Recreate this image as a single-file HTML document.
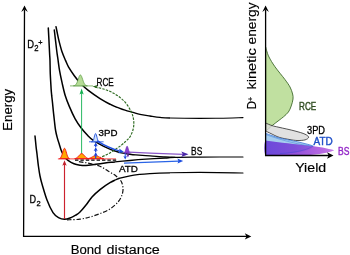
<!DOCTYPE html><html><head><meta charset="utf-8"><style>html,body{margin:0;padding:0;background:#fff}body{width:350px;height:255px;overflow:hidden}</style></head><body><svg width="350" height="255" viewBox="0 0 350 255" style="display:block;font-family:'Liberation Sans',sans-serif">
<defs><linearGradient id="pg" x1="0" x2="1" y1="0" y2="0"><stop offset="0" stop-color="#7240d8"/><stop offset="0.45" stop-color="#8c48d8"/><stop offset="0.8" stop-color="#b05ee0"/><stop offset="1" stop-color="#c272e4"/></linearGradient></defs>
<rect width="350" height="255" fill="#fff"/>
<path d="M24.5,9.5L23.6,236.4H247" fill="none" stroke="#000" stroke-width="1.3"/>
<path d="M24.5,5.6L27.8,12L24.5,9.6L21.2,12Z" fill="#000"/>
<path d="M251.3,236.4L244.8,233.2L246.5,236.4L244.8,239.6Z" fill="#000"/>
<defs><clipPath id="c1"><rect x="0" y="0" width="115" height="255"/></clipPath><clipPath id="c2"><rect x="115" y="0" width="55" height="255"/></clipPath><clipPath id="c3"><rect x="170" y="0" width="180" height="255"/></clipPath></defs>
<g clip-path="url(#c1)" fill="none" stroke="#000" stroke-width="1.50" stroke-linecap="round">
<path d="M48.3,28.1C48.4,30.0 48.7,35.0 48.9,39.3C49.1,43.5 49.4,50.0 49.6,53.6C49.8,57.2 49.9,57.2 50.0,60.7C50.1,64.2 50.1,69.7 50.3,74.3C50.5,78.9 50.9,85.0 51.1,88.6C51.3,92.2 51.5,93.2 51.7,95.7C52.0,98.2 52.3,100.6 52.6,103.6C52.9,106.6 53.2,110.3 53.6,113.6C54.0,116.9 54.4,120.8 54.7,123.6C55.0,126.4 55.2,128.2 55.6,130.5C56.0,132.8 56.5,134.8 57.1,137.1C57.7,139.4 58.5,141.9 59.3,144.3C60.0,146.7 60.6,149.2 61.6,151.4C62.6,153.6 63.9,156.0 65.0,157.5C66.1,159.0 66.5,159.3 68.0,160.4C69.5,161.5 72.0,163.0 74.0,163.8C76.0,164.6 78.0,164.9 80.0,165.2C82.0,165.5 83.0,165.7 86.0,165.5C89.0,165.3 93.8,164.4 98.0,163.9C102.2,163.4 107.3,162.7 111.0,162.3C114.7,161.9 116.8,161.7 120.0,161.4C123.2,161.1 125.7,160.9 130.0,160.5C134.3,160.1 140.2,159.6 146.0,159.2C151.8,158.8 160.2,158.3 165.0,158.0C169.8,157.7 169.2,157.6 175.0,157.4C180.8,157.2 188.7,157.2 200.0,157.1C211.3,157.0 235.8,157.0 243.0,157.0"/>
<path d="M54.3,30.0C54.5,31.6 54.9,35.4 55.4,39.3C55.9,43.2 56.6,50.1 57.1,53.6C57.6,57.1 57.7,57.4 58.1,60.4C58.5,63.4 59.0,67.7 59.7,71.4C60.4,75.2 61.2,78.9 62.1,82.9C63.0,86.9 64.0,91.6 65.2,95.5C66.4,99.4 67.7,102.6 69.3,106.4C70.9,110.2 73.0,114.9 75.0,118.6C77.0,122.2 79.2,125.5 81.4,128.3C83.6,131.2 85.9,133.6 87.9,135.7C89.9,137.8 91.6,139.2 93.6,140.6C95.6,142.0 97.8,143.1 100.0,144.3C102.2,145.5 104.7,146.8 107.1,147.9C109.5,149.0 111.9,150.0 114.3,150.8C116.7,151.6 119.1,152.4 121.4,152.9C123.7,153.4 125.6,153.7 128.0,154.0C130.4,154.3 132.0,154.6 135.7,154.9C139.4,155.2 145.1,155.6 150.0,155.9C154.9,156.2 160.8,156.7 165.0,156.9C169.2,157.1 173.3,157.2 175.0,157.3"/>
<path d="M56.0,26.7C56.2,27.9 56.9,31.0 57.4,33.6C57.9,36.2 58.5,39.0 59.3,42.1C60.1,45.2 61.1,49.1 62.1,52.1C63.1,55.1 64.4,57.9 65.5,60.4C66.6,62.9 67.1,64.5 68.6,67.1C70.1,69.6 72.2,72.8 74.3,75.7C76.4,78.6 79.0,81.8 81.4,84.3C83.8,86.8 85.5,88.3 88.6,90.7C91.7,93.1 96.4,96.3 100.0,98.6C103.6,100.8 106.9,102.7 110.0,104.2C113.1,105.8 116.1,106.9 118.6,107.9C121.1,108.9 122.6,109.5 125.0,110.2C127.4,111.0 130.4,111.7 132.9,112.4C135.4,113.1 137.2,113.8 140.0,114.4C142.8,115.0 146.7,115.5 150.0,116.0C153.3,116.5 156.7,117.1 160.0,117.4C163.3,117.7 163.3,117.8 170.0,118.0C176.7,118.2 191.7,118.4 200.0,118.4C208.3,118.4 212.8,118.3 220.0,118.2C227.2,118.1 239.2,117.7 243.0,117.6"/>
<path d="M35.0,136.0C35.2,137.7 35.7,143.0 36.0,146.0C36.3,149.0 36.6,150.7 37.0,154.0C37.4,157.3 37.9,162.3 38.4,166.0C38.9,169.7 39.4,173.0 40.0,176.0C40.6,179.0 40.8,180.0 42.0,184.0C43.2,188.0 45.2,195.2 47.0,200.0C48.8,204.8 51.1,209.7 53.0,212.6C54.9,215.5 56.6,216.5 58.5,217.6C60.4,218.7 62.3,219.3 64.4,219.3C66.5,219.3 69.1,218.3 71.0,217.6C72.9,216.9 74.5,215.9 76.0,215.0C77.5,214.1 78.3,213.7 80.0,212.0C81.7,210.3 84.0,207.5 86.0,205.0C88.0,202.5 89.7,199.6 92.0,197.0C94.3,194.4 97.0,192.0 100.0,189.6C103.0,187.2 106.7,184.5 110.0,182.6C113.3,180.7 116.7,179.3 120.0,178.2C123.3,177.1 126.7,176.4 130.0,175.8C133.3,175.2 136.7,174.8 140.0,174.4C143.3,174.0 145.0,173.9 150.0,173.6C155.0,173.3 161.7,173.0 170.0,172.8C178.3,172.6 187.8,172.4 200.0,172.4C212.2,172.4 235.8,172.9 243.0,173.0"/>
</g>
<g clip-path="url(#c2)" fill="none" stroke="#000" stroke-width="1.30" stroke-linecap="round">
<path d="M48.3,28.1C48.4,30.0 48.7,35.0 48.9,39.3C49.1,43.5 49.4,50.0 49.6,53.6C49.8,57.2 49.9,57.2 50.0,60.7C50.1,64.2 50.1,69.7 50.3,74.3C50.5,78.9 50.9,85.0 51.1,88.6C51.3,92.2 51.5,93.2 51.7,95.7C52.0,98.2 52.3,100.6 52.6,103.6C52.9,106.6 53.2,110.3 53.6,113.6C54.0,116.9 54.4,120.8 54.7,123.6C55.0,126.4 55.2,128.2 55.6,130.5C56.0,132.8 56.5,134.8 57.1,137.1C57.7,139.4 58.5,141.9 59.3,144.3C60.0,146.7 60.6,149.2 61.6,151.4C62.6,153.6 63.9,156.0 65.0,157.5C66.1,159.0 66.5,159.3 68.0,160.4C69.5,161.5 72.0,163.0 74.0,163.8C76.0,164.6 78.0,164.9 80.0,165.2C82.0,165.5 83.0,165.7 86.0,165.5C89.0,165.3 93.8,164.4 98.0,163.9C102.2,163.4 107.3,162.7 111.0,162.3C114.7,161.9 116.8,161.7 120.0,161.4C123.2,161.1 125.7,160.9 130.0,160.5C134.3,160.1 140.2,159.6 146.0,159.2C151.8,158.8 160.2,158.3 165.0,158.0C169.8,157.7 169.2,157.6 175.0,157.4C180.8,157.2 188.7,157.2 200.0,157.1C211.3,157.0 235.8,157.0 243.0,157.0"/>
<path d="M54.3,30.0C54.5,31.6 54.9,35.4 55.4,39.3C55.9,43.2 56.6,50.1 57.1,53.6C57.6,57.1 57.7,57.4 58.1,60.4C58.5,63.4 59.0,67.7 59.7,71.4C60.4,75.2 61.2,78.9 62.1,82.9C63.0,86.9 64.0,91.6 65.2,95.5C66.4,99.4 67.7,102.6 69.3,106.4C70.9,110.2 73.0,114.9 75.0,118.6C77.0,122.2 79.2,125.5 81.4,128.3C83.6,131.2 85.9,133.6 87.9,135.7C89.9,137.8 91.6,139.2 93.6,140.6C95.6,142.0 97.8,143.1 100.0,144.3C102.2,145.5 104.7,146.8 107.1,147.9C109.5,149.0 111.9,150.0 114.3,150.8C116.7,151.6 119.1,152.4 121.4,152.9C123.7,153.4 125.6,153.7 128.0,154.0C130.4,154.3 132.0,154.6 135.7,154.9C139.4,155.2 145.1,155.6 150.0,155.9C154.9,156.2 160.8,156.7 165.0,156.9C169.2,157.1 173.3,157.2 175.0,157.3"/>
<path d="M56.0,26.7C56.2,27.9 56.9,31.0 57.4,33.6C57.9,36.2 58.5,39.0 59.3,42.1C60.1,45.2 61.1,49.1 62.1,52.1C63.1,55.1 64.4,57.9 65.5,60.4C66.6,62.9 67.1,64.5 68.6,67.1C70.1,69.6 72.2,72.8 74.3,75.7C76.4,78.6 79.0,81.8 81.4,84.3C83.8,86.8 85.5,88.3 88.6,90.7C91.7,93.1 96.4,96.3 100.0,98.6C103.6,100.8 106.9,102.7 110.0,104.2C113.1,105.8 116.1,106.9 118.6,107.9C121.1,108.9 122.6,109.5 125.0,110.2C127.4,111.0 130.4,111.7 132.9,112.4C135.4,113.1 137.2,113.8 140.0,114.4C142.8,115.0 146.7,115.5 150.0,116.0C153.3,116.5 156.7,117.1 160.0,117.4C163.3,117.7 163.3,117.8 170.0,118.0C176.7,118.2 191.7,118.4 200.0,118.4C208.3,118.4 212.8,118.3 220.0,118.2C227.2,118.1 239.2,117.7 243.0,117.6"/>
<path d="M35.0,136.0C35.2,137.7 35.7,143.0 36.0,146.0C36.3,149.0 36.6,150.7 37.0,154.0C37.4,157.3 37.9,162.3 38.4,166.0C38.9,169.7 39.4,173.0 40.0,176.0C40.6,179.0 40.8,180.0 42.0,184.0C43.2,188.0 45.2,195.2 47.0,200.0C48.8,204.8 51.1,209.7 53.0,212.6C54.9,215.5 56.6,216.5 58.5,217.6C60.4,218.7 62.3,219.3 64.4,219.3C66.5,219.3 69.1,218.3 71.0,217.6C72.9,216.9 74.5,215.9 76.0,215.0C77.5,214.1 78.3,213.7 80.0,212.0C81.7,210.3 84.0,207.5 86.0,205.0C88.0,202.5 89.7,199.6 92.0,197.0C94.3,194.4 97.0,192.0 100.0,189.6C103.0,187.2 106.7,184.5 110.0,182.6C113.3,180.7 116.7,179.3 120.0,178.2C123.3,177.1 126.7,176.4 130.0,175.8C133.3,175.2 136.7,174.8 140.0,174.4C143.3,174.0 145.0,173.9 150.0,173.6C155.0,173.3 161.7,173.0 170.0,172.8C178.3,172.6 187.8,172.4 200.0,172.4C212.2,172.4 235.8,172.9 243.0,173.0"/>
</g>
<g clip-path="url(#c3)" fill="none" stroke="#000" stroke-width="1.10" stroke-linecap="round">
<path d="M48.3,28.1C48.4,30.0 48.7,35.0 48.9,39.3C49.1,43.5 49.4,50.0 49.6,53.6C49.8,57.2 49.9,57.2 50.0,60.7C50.1,64.2 50.1,69.7 50.3,74.3C50.5,78.9 50.9,85.0 51.1,88.6C51.3,92.2 51.5,93.2 51.7,95.7C52.0,98.2 52.3,100.6 52.6,103.6C52.9,106.6 53.2,110.3 53.6,113.6C54.0,116.9 54.4,120.8 54.7,123.6C55.0,126.4 55.2,128.2 55.6,130.5C56.0,132.8 56.5,134.8 57.1,137.1C57.7,139.4 58.5,141.9 59.3,144.3C60.0,146.7 60.6,149.2 61.6,151.4C62.6,153.6 63.9,156.0 65.0,157.5C66.1,159.0 66.5,159.3 68.0,160.4C69.5,161.5 72.0,163.0 74.0,163.8C76.0,164.6 78.0,164.9 80.0,165.2C82.0,165.5 83.0,165.7 86.0,165.5C89.0,165.3 93.8,164.4 98.0,163.9C102.2,163.4 107.3,162.7 111.0,162.3C114.7,161.9 116.8,161.7 120.0,161.4C123.2,161.1 125.7,160.9 130.0,160.5C134.3,160.1 140.2,159.6 146.0,159.2C151.8,158.8 160.2,158.3 165.0,158.0C169.8,157.7 169.2,157.6 175.0,157.4C180.8,157.2 188.7,157.2 200.0,157.1C211.3,157.0 235.8,157.0 243.0,157.0"/>
<path d="M54.3,30.0C54.5,31.6 54.9,35.4 55.4,39.3C55.9,43.2 56.6,50.1 57.1,53.6C57.6,57.1 57.7,57.4 58.1,60.4C58.5,63.4 59.0,67.7 59.7,71.4C60.4,75.2 61.2,78.9 62.1,82.9C63.0,86.9 64.0,91.6 65.2,95.5C66.4,99.4 67.7,102.6 69.3,106.4C70.9,110.2 73.0,114.9 75.0,118.6C77.0,122.2 79.2,125.5 81.4,128.3C83.6,131.2 85.9,133.6 87.9,135.7C89.9,137.8 91.6,139.2 93.6,140.6C95.6,142.0 97.8,143.1 100.0,144.3C102.2,145.5 104.7,146.8 107.1,147.9C109.5,149.0 111.9,150.0 114.3,150.8C116.7,151.6 119.1,152.4 121.4,152.9C123.7,153.4 125.6,153.7 128.0,154.0C130.4,154.3 132.0,154.6 135.7,154.9C139.4,155.2 145.1,155.6 150.0,155.9C154.9,156.2 160.8,156.7 165.0,156.9C169.2,157.1 173.3,157.2 175.0,157.3"/>
<path d="M56.0,26.7C56.2,27.9 56.9,31.0 57.4,33.6C57.9,36.2 58.5,39.0 59.3,42.1C60.1,45.2 61.1,49.1 62.1,52.1C63.1,55.1 64.4,57.9 65.5,60.4C66.6,62.9 67.1,64.5 68.6,67.1C70.1,69.6 72.2,72.8 74.3,75.7C76.4,78.6 79.0,81.8 81.4,84.3C83.8,86.8 85.5,88.3 88.6,90.7C91.7,93.1 96.4,96.3 100.0,98.6C103.6,100.8 106.9,102.7 110.0,104.2C113.1,105.8 116.1,106.9 118.6,107.9C121.1,108.9 122.6,109.5 125.0,110.2C127.4,111.0 130.4,111.7 132.9,112.4C135.4,113.1 137.2,113.8 140.0,114.4C142.8,115.0 146.7,115.5 150.0,116.0C153.3,116.5 156.7,117.1 160.0,117.4C163.3,117.7 163.3,117.8 170.0,118.0C176.7,118.2 191.7,118.4 200.0,118.4C208.3,118.4 212.8,118.3 220.0,118.2C227.2,118.1 239.2,117.7 243.0,117.6"/>
<path d="M35.0,136.0C35.2,137.7 35.7,143.0 36.0,146.0C36.3,149.0 36.6,150.7 37.0,154.0C37.4,157.3 37.9,162.3 38.4,166.0C38.9,169.7 39.4,173.0 40.0,176.0C40.6,179.0 40.8,180.0 42.0,184.0C43.2,188.0 45.2,195.2 47.0,200.0C48.8,204.8 51.1,209.7 53.0,212.6C54.9,215.5 56.6,216.5 58.5,217.6C60.4,218.7 62.3,219.3 64.4,219.3C66.5,219.3 69.1,218.3 71.0,217.6C72.9,216.9 74.5,215.9 76.0,215.0C77.5,214.1 78.3,213.7 80.0,212.0C81.7,210.3 84.0,207.5 86.0,205.0C88.0,202.5 89.7,199.6 92.0,197.0C94.3,194.4 97.0,192.0 100.0,189.6C103.0,187.2 106.7,184.5 110.0,182.6C113.3,180.7 116.7,179.3 120.0,178.2C123.3,177.1 126.7,176.4 130.0,175.8C133.3,175.2 136.7,174.8 140.0,174.4C143.3,174.0 145.0,173.9 150.0,173.6C155.0,173.3 161.7,173.0 170.0,172.8C178.3,172.6 187.8,172.4 200.0,172.4C212.2,172.4 235.8,172.9 243.0,173.0"/>
</g>
<path d="M67.0,219.8C69.2,219.7 76.2,219.7 80.0,219.2C83.8,218.7 86.7,217.9 90.0,217.0C93.3,216.1 96.7,214.9 100.0,213.6C103.3,212.3 107.0,210.9 110.0,209.0C113.0,207.1 116.0,204.3 118.0,202.0C120.0,199.7 121.2,197.3 122.0,195.0C122.8,192.7 123.2,190.3 123.0,188.0C122.8,185.7 122.2,183.0 121.0,181.0C119.8,179.0 118.2,177.7 116.0,176.0C113.8,174.3 110.8,172.7 108.0,171.0C105.2,169.3 102.7,167.3 99.3,166.0C95.9,164.7 91.1,163.8 87.5,163.0C83.9,162.2 79.2,161.8 77.5,161.5" fill="none" stroke="#111" stroke-width="1.2" stroke-dasharray="4.5 1.8 1.2 1.8"/>
<path d="M95.0,86.9C96.5,87.3 101.6,88.4 104.3,89.3C107.0,90.2 109.0,90.9 111.4,92.1C113.8,93.3 116.2,94.6 118.6,96.4C121.0,98.2 123.7,100.5 125.7,102.9C127.7,105.3 129.5,108.5 130.7,110.7C131.9,112.9 132.3,114.1 132.8,116.0C133.3,117.9 133.7,119.8 133.8,122.0C133.9,124.2 133.8,126.6 133.2,129.0C132.6,131.4 131.4,134.5 130.2,136.5C129.0,138.5 127.5,139.6 126.0,141.0C124.5,142.4 123.4,143.6 121.4,145.1C119.5,146.6 116.7,148.5 114.3,150.1C111.9,151.7 109.5,153.2 107.1,154.4C104.7,155.7 101.2,157.1 100.0,157.6" fill="none" stroke="#2d6a20" stroke-width="1.15" stroke-dasharray="2.5 1.2"/>
<path d="M92.5,86.6L97.5,85L96.6,86.8L97.8,88.5Z" fill="#2d6a20"/>
<path d="M57.9,158.9H116" stroke="#f62525" stroke-width="0.85"/>
<path d="M75,160.2H117.5" stroke="#000" stroke-width="1.2" stroke-dasharray="3.4 2"/>
<path d="M64.5,219V163" stroke="#cc222e" stroke-width="1.15"/>
<path d="M64.5,160.2L66.7,165.8L64.5,164.4L62.3,165.8Z" fill="#c0202c"/>
<path d="M81.6,154V92" stroke="#12b050" stroke-width="0.9"/>
<path d="M81.6,88.5L83.7,94.5L81.6,93.2L79.5,94.5Z" fill="#12b050"/>
<path d="M70,85.9H93" stroke="#6aa84f" stroke-width="0.8"/>
<path d="M73.4,85.8L73.98,85.74L74.57,85.57L75.15,85.26L75.73,84.74L76.32,83.94L76.90,82.80L77.48,81.33L78.07,79.63L78.65,77.88L79.23,76.34L79.82,75.28L80.40,74.90L80.98,75.28L81.57,76.34L82.15,77.88L82.73,79.63L83.32,81.33L83.90,82.80L84.48,83.94L85.07,84.74L85.65,85.26L86.23,85.57L86.82,85.74L87.40,85.83Z" fill="#b5dc96" stroke="#5a9a44" stroke-width="0.7"/>
<path d="M59.5,158.6L59.92,158.41L60.33,158.06L60.75,157.54L61.17,156.81L61.58,155.84L62.00,154.65L62.42,153.28L62.83,151.84L63.25,150.46L63.67,149.32L64.08,148.57L64.50,148.30L64.92,148.57L65.33,149.32L65.75,150.46L66.17,151.84L66.58,153.28L67.00,154.65L67.42,155.84L67.83,156.81L68.25,157.54L68.67,158.06L69.08,158.41L69.50,158.63Z" fill="#ffa800" stroke="#f41a1a" stroke-width="1"/>
<path d="M74.7,158.6L75.28,158.49L75.87,158.30L76.45,158.01L77.03,157.63L77.62,157.14L78.20,156.56L78.78,155.90L79.37,155.22L79.95,154.59L80.53,154.06L81.12,153.72L81.70,153.60L82.28,153.72L82.87,154.06L83.45,154.59L84.03,155.22L84.62,155.90L85.20,156.56L85.78,157.14L86.37,157.63L86.95,158.01L87.53,158.30L88.12,158.49L88.70,158.62Z" fill="#ffa800" stroke="#f41a1a" stroke-width="1"/>
<path d="M87.7,158.6L88.37,158.50L89.03,158.35L89.70,158.15L90.37,157.89L91.03,157.59L91.70,157.25L92.37,156.88L93.03,156.52L93.70,156.19L94.37,155.93L95.03,155.76L95.70,155.70L96.37,155.76L97.03,155.93L97.70,156.19L98.37,156.52L99.03,156.88L99.70,157.25L100.37,157.59L101.03,157.89L101.70,158.15L102.37,158.35L103.03,158.50L103.70,158.61Z" fill="#ffa800" stroke="#f41a1a" stroke-width="1"/>
<path d="M89,141.8H103.6" stroke="#2a5fe0" stroke-width="0.9"/>
<path d="M91.4,141.8L91.75,141.73L92.10,141.64L92.45,141.45L92.80,141.12L93.15,140.58L93.50,139.78L93.85,138.68L94.20,137.37L94.55,135.97L94.90,134.70L95.25,133.82L95.60,133.50L95.95,133.82L96.30,134.70L96.65,135.97L97.00,137.37L97.35,138.68L97.70,139.78L98.05,140.58L98.40,141.12L98.75,141.45L99.10,141.64L99.45,141.73L99.80,141.77Z" fill="#cfe2fa" stroke="#1f4fe0" stroke-width="0.9"/>
<path d="M95.7,158.5V153.7" stroke="#1a44d8" stroke-width="1.2"/>
<path d="M95.7,152.2l2,3.8l-2,-0.8l-2,0.8Z" fill="#1a44d8"/>
<path d="M95.7,152.2V148.7" stroke="#1a44d8" stroke-width="1.2"/>
<path d="M95.7,147.2l2,3.8l-2,-0.8l-2,0.8Z" fill="#1a44d8"/>
<path d="M95.7,147.2V143.9" stroke="#1a44d8" stroke-width="1.2"/>
<path d="M95.7,142.4l2,3.8l-2,-0.8l-2,0.8Z" fill="#1a44d8"/>
<path d="M97,140.8C103,144.5 111,148.6 119.5,150.9" fill="none" stroke="#1f4fe0" stroke-width="1.5"/>
<path d="M124,151.9L118.2,153.2L119.6,151L119.2,148.6Z" fill="#1f4fe0"/>
<path d="M123.7,152.9L123.98,152.83L124.27,152.67L124.55,152.42L124.83,152.03L125.12,151.46L125.40,150.72L125.68,149.82L125.97,148.82L126.25,147.83L126.53,146.98L126.82,146.40L127.10,146.20L127.38,146.40L127.67,146.98L127.95,147.83L128.23,148.82L128.52,149.82L128.80,150.72L129.08,151.46L129.37,152.03L129.65,152.42L129.93,152.67L130.22,152.83L130.50,152.91Z" fill="#8a3fd0" stroke="#6a2cb0" stroke-width="0.7"/>
<path d="M125.2,153V157.5" stroke="#1f4fe0" stroke-width="1"/>
<path d="M125.2,159.6l1.8,-3.6l-1.8,0.8l-1.8,-0.8Z" fill="#1f4fe0"/>
<path d="M127.9,153V155.5" stroke="#6a2cb0" stroke-width="0.9"/>
<path d="M127.9,157.6l1.5,-3l-1.5,0.6l-1.5,-0.6Z" fill="#6a2cb0"/>
<path d="M124.5,153H130" stroke="#7a38c0" stroke-width="0.8"/><path d="M129,152.2L150,153.2L183,154.3" fill="none" stroke="#8a58c8" stroke-width="1.25"/>
<path d="M188.5,154.3L181.3,151.5L182.8,154.3L181.3,157.1Z" fill="#4a28a8"/>
<path d="M124,163.1L179,161.1" stroke="#2a64e6" stroke-width="1.3"/>
<path d="M183.2,160.9L177.3,158.6L178.5,161.1L177.5,163.5Z" fill="#1f4fe0"/>
<text x="27.2" y="48.4" font-size="10.8" fill="#000" stroke="#000" stroke-width="0.3" textLength="6.8" lengthAdjust="spacingAndGlyphs">D</text>
<text x="34.2" y="50.8" font-size="9.0" fill="#000" stroke="#000" stroke-width="0.3" textLength="4.3" lengthAdjust="spacingAndGlyphs">2</text>
<text x="38.3" y="44.9" font-size="7.4" fill="#000" stroke="#000" stroke-width="0.3" textLength="4.3" lengthAdjust="spacingAndGlyphs">+</text>
<text x="96.5" y="85.8" font-size="10.3" fill="#000" stroke="#000" stroke-width="0.3" textLength="17.3" lengthAdjust="spacingAndGlyphs">RCE</text>
<text x="98.5" y="135.6" font-size="9.9" fill="#000" stroke="#000" stroke-width="0.3" textLength="18.9" lengthAdjust="spacingAndGlyphs">3PD</text>
<text x="119.0" y="172.1" font-size="9.9" fill="#000" stroke="#000" stroke-width="0.3" textLength="19.0" lengthAdjust="spacingAndGlyphs">ATD</text>
<text x="191.1" y="155.1" font-size="10.3" fill="#000" stroke="#000" stroke-width="0.3" textLength="11.2" lengthAdjust="spacingAndGlyphs">BS</text>
<text x="29.6" y="202.7" font-size="10.6" fill="#000" stroke="#000" stroke-width="0.3" textLength="6.6" lengthAdjust="spacingAndGlyphs">D</text>
<text x="36.4" y="205.5" font-size="8.0" fill="#000" stroke="#000" stroke-width="0.3" textLength="4.2" lengthAdjust="spacingAndGlyphs">2</text>
<text x="70.7" y="253.5" font-size="12.3" fill="#000" stroke="#000" stroke-width="0.3" textLength="30.7" lengthAdjust="spacingAndGlyphs" style="stroke-width:0.15">Bond</text>
<text x="106.5" y="253.5" font-size="12.3" fill="#000" stroke="#000" stroke-width="0.3" textLength="53.3" lengthAdjust="spacingAndGlyphs" style="stroke-width:0.15">distance</text>
<text transform="translate(11.8,130.8) rotate(-90)" font-size="12.4" stroke="#000" stroke-width="0.15" textLength="42" lengthAdjust="spacingAndGlyphs">Energy</text>
<text transform="translate(256.4,109.2) rotate(-90)" font-size="13.3" stroke="#000" stroke-width="0.15" textLength="8.2" lengthAdjust="spacingAndGlyphs">D</text>
<text transform="translate(253.2,101.0) rotate(-90)" font-size="7.2" stroke="#000" stroke-width="0.15" textLength="4.2" lengthAdjust="spacingAndGlyphs">+</text>
<text transform="translate(256.4,89.5) rotate(-90)" font-size="13.2" stroke="#000" stroke-width="0.15" textLength="41.3" lengthAdjust="spacingAndGlyphs">kinetic</text>
<text transform="translate(256.4,44.5) rotate(-90)" font-size="13.2" stroke="#000" stroke-width="0.15" textLength="42.0" lengthAdjust="spacingAndGlyphs">energy</text>
<path d="M265.6,47.0C265.8,47.6 266.0,48.8 266.6,50.5C267.2,52.2 267.6,54.3 269.0,57.0C270.4,59.7 272.3,63.0 275.0,66.8C277.7,70.6 282.5,76.2 285.0,79.6C287.5,83.0 288.7,84.6 290.0,87.0C291.3,89.4 292.1,92.0 292.6,94.0C293.1,96.0 293.2,97.0 293.0,99.0C292.8,101.0 292.0,103.8 291.2,106.0C290.4,108.2 289.7,110.2 288.4,112.0C287.1,113.8 285.1,115.4 283.5,116.8C281.9,118.2 280.8,118.9 279.0,120.3C277.2,121.7 274.6,123.6 272.9,125.0C271.1,126.4 269.7,127.8 268.5,128.8C267.3,129.8 266.1,130.6 265.6,131.0Z" fill="#c0e0a0" stroke="#3f6a2c" stroke-width="0.9"/>
<path d="M265.6,123.0C266.7,123.5 270.1,125.0 272.3,125.7C274.5,126.4 275.2,126.4 279.0,127.3C282.8,128.2 290.7,129.8 295.0,131.0C299.3,132.2 302.7,133.1 305.0,134.2C307.3,135.2 308.6,136.4 308.6,137.3C308.6,138.2 306.9,139.4 305.0,139.9C303.1,140.4 299.5,140.6 297.0,140.5C294.5,140.4 292.9,140.1 290.0,139.6C287.1,139.1 282.6,138.4 279.4,137.4C276.2,136.4 273.3,134.7 271.0,133.6C268.7,132.5 266.5,131.4 265.6,131.0Z" fill="#dadada" fill-opacity="0.8" stroke="#2a2a2a" stroke-width="0.8"/>
<path d="M265.6,133.3C266.7,133.7 269.7,134.8 272.0,135.6C274.3,136.4 275.8,137.1 279.4,138.0C283.0,138.9 290.1,140.2 293.7,141.0C297.3,141.8 297.8,141.7 301.0,142.6C304.2,143.5 311.8,145.0 313.0,146.2C314.2,147.3 310.2,148.6 308.0,149.5C305.8,150.4 303.8,150.8 300.0,151.5C296.2,152.2 290.7,153.0 285.0,153.6C279.3,154.2 268.8,154.8 265.6,155.0Z" fill="#9cc8ec" fill-opacity="0.9" stroke="#2f6fd8" stroke-width="0.7"/>
<path d="M265.2,140.6C264,145 264,151 265.2,155.4L300,155.4C315,155.2 326,153.6 334.3,150.3C328,148.6 318,146.6 308,145.6C296,144.4 280,142.6 265.2,140.6Z" fill="url(#pg)" fill-opacity="0.95"/>
<path d="M265.6,140.8C280,142.7 296,144.4 308,145.6L313,146.3C308,149.8 298,152.4 285,153.7L265.6,155Z" fill="#3a50e0" fill-opacity="0.16"/>
<path d="M265.6,134.4C272,137 285,141 296,143.4S310,145.6 313,146.2" fill="none" stroke="#3f7fd8" stroke-width="0.6" opacity="0.8"/>
<path d="M313,146.2C308,149.6 296,152.6 280,153.6" fill="none" stroke="#3a48d0" stroke-width="0.6" opacity="0.7"/>
<path d="M265.6,9.5V155.5H329" fill="none" stroke="#000" stroke-width="1.3"/>
<path d="M265.6,5.6L268.9,12L265.6,9.6L262.3,12Z" fill="#000"/>
<path d="M333.5,155.5L327,152.3L328.7,155.5L327,158.7Z" fill="#000"/>
<text x="299.0" y="109.6" font-size="10.2" fill="#2f4c20" stroke="#2f4c20" stroke-width="0.3" textLength="17.2" lengthAdjust="spacingAndGlyphs" style="stroke-width:0.4">RCE</text>
<text x="307.0" y="133.6" font-size="10.1" fill="#000" stroke="#000" stroke-width="0.3" textLength="18.0" lengthAdjust="spacingAndGlyphs">3PD</text>
<text x="313.5" y="144.9" font-size="10.1" fill="#1f50c8" stroke="#1f50c8" stroke-width="0.3" textLength="19.2" lengthAdjust="spacingAndGlyphs" style="stroke-width:0.4">ATD</text>
<text x="338.0" y="154.7" font-size="10.0" fill="#9428c8" stroke="#9428c8" stroke-width="0.3" textLength="11.4" lengthAdjust="spacingAndGlyphs" style="stroke-width:0.4">BS</text>
<text x="295.2" y="171.6" font-size="13.2" fill="#000" stroke="#000" stroke-width="0.3" textLength="31.0" lengthAdjust="spacingAndGlyphs" style="stroke-width:0.15">Yield</text>
</svg></body></html>
